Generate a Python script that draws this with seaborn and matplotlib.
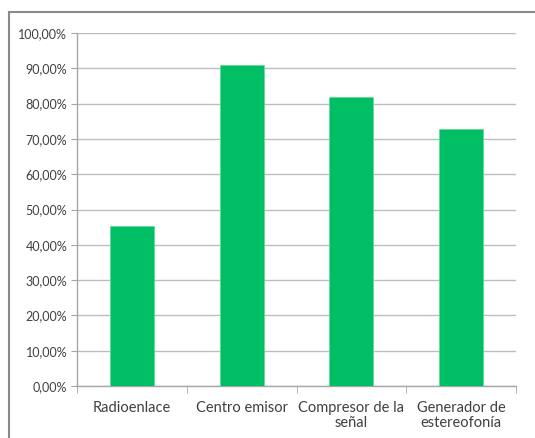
import matplotlib
matplotlib.use("Agg")
import matplotlib.pyplot as plt
import matplotlib.patches as mpatches
from matplotlib.ticker import FuncFormatter
import seaborn as sns
import pandas as pd

categories = ["Radioenlace", "Centro emisor", "Compresor de la\nseñal", "Generador de\nestereofonía"]
values = [45.45, 90.91, 81.82, 72.73]
yticks = [0, 10, 20, 30, 40, 50, 60, 70, 80, 90, 100]

sns.set_style("white")
plt.rcParams['font.family'] = ['Lato', 'DejaVu Sans']

df = pd.DataFrame({"cat": categories, "val": values})

fig = plt.figure(figsize=(5.35, 4.38), dpi=100)
ax = fig.add_axes([77/535, 1-386/438, (516-77)/535, (386-33)/438])

sns.barplot(data=df, x="cat", y="val", color="#00BE64", width=0.4, ax=ax,
            saturation=1, edgecolor="#5fd99a", linewidth=0.5, zorder=3)

ax.set_ylim(0, 100)
ax.set_xlim(-0.5, len(categories) - 0.5)
ax.set_yticks(yticks)
ax.yaxis.set_major_formatter(FuncFormatter(lambda v, p: f"{v:.2f}%".replace('.', ',')))
ax.grid(axis='y', color='#bdbdbd', linewidth=1.0, zorder=0)
ax.set_axisbelow(True)

for s in ['top', 'right']:
    ax.spines[s].set_visible(False)
for s in ['left', 'bottom']:
    ax.spines[s].set_color('#a6a6a6')
    ax.spines[s].set_linewidth(1.0)

ax.tick_params(axis='y', length=4, color='#a6a6a6', direction='out', left=True,
               labelsize=9, labelcolor='#404040', pad=3)
ax.set_xticks(range(len(categories)))
ax.set_xticklabels(categories)
ax.tick_params(axis='x', length=0, labelsize=10.5, labelcolor='#404040', pad=11)
ax.set_xticks([i - 0.5 for i in range(len(categories) + 1)], minor=True)
ax.tick_params(axis='x', which='minor', length=5, color='#a6a6a6', direction='out', bottom=True)
for lab in ax.get_xticklabels():
    lab.set_linespacing(1.1)

ax.set_xlabel("")
ax.set_ylabel("")

border = mpatches.Rectangle((9/535, -0.05), 1.1, 1 - 12/438 + 0.05, transform=fig.transFigure,
                            fill=False, edgecolor='#8a8a8a', linewidth=1.5, zorder=10)
fig.patches.append(border)

fig.savefig("out.png", dpi=100)
